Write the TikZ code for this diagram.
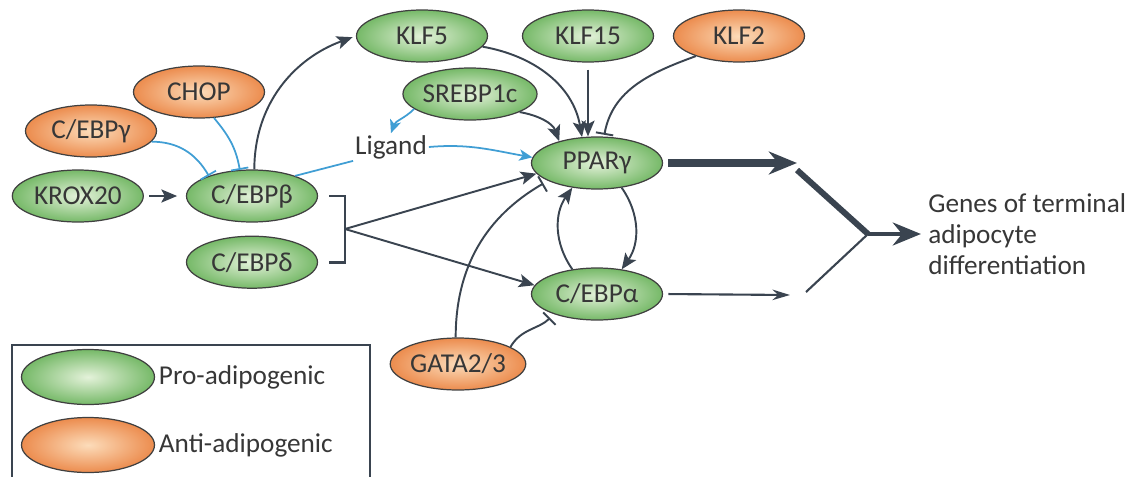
\documentclass[tikz,border=0pt]{standalone}
\usepackage{fontspec}
\setmainfont{Carlito}
\usetikzlibrary{positioning, shapes.geometric, arrows.meta}

\definecolor{linedark}{RGB}{58,68,80}
\definecolor{lineblue}{RGB}{64,158,212}
\definecolor{greenin}{RGB}{228,242,218}
\definecolor{greenout}{RGB}{118,185,104}
\definecolor{orangein}{RGB}{252,220,186}
\definecolor{orangeout}{RGB}{236,140,78}
\definecolor{textgray}{RGB}{55,55,55}

\begin{document}
\begin{tikzpicture}[x=0.02cm, y=0.02cm, node distance=10pt,
	font=\fontsize{15.5}{17.5}\selectfont, text=textgray,
	gene/.style={draw=black!75, line width=0.7pt, ellipse, shade, minimum width=2.62cm, minimum height=1.04cm, inner sep=0pt},
	pro/.style={gene, inner color=greenin, outer color=greenout},
	anti/.style={gene, inner color=orangein, outer color=orangeout},
	act/.style={draw=linedark, line width=1.1pt, -{Stealth[length=9pt,width=7.5pt,inset=2pt]}},
	inh/.style={draw=linedark, line width=1.1pt, -{Bar[width=10pt]}},
	actblue/.style={draw=lineblue, line width=1pt, -{Stealth[length=7.5pt,width=6.5pt,inset=2pt]}},
	inhblue/.style={draw=lineblue, line width=1pt, -{Bar[width=10pt]}},
	bracket/.style={draw=linedark, line width=1.7pt, line join=miter}]
	\useasboundingbox (0,0) rectangle (1144,-477);
	% regulators
	\node[pro] (klf5) at (422,-36) {KLF5};
	\node[pro] (klf15) at (588,-36) {KLF15};
	\node[anti] (klf2) at (739,-36) {KLF2};
	\node[anti] (chop) at (199,-92) {CHOP};
	\node[anti] (cebpg) at (91,-131) {C/EBPγ};
	\node[pro] (srebp) at (470,-94) {SREBP1c};
	\node[inner sep=1pt] (ligand) at (391,-147) {Ligand};
	\node[pro] (cebpb) at (252,-196) {C/EBPβ};
	\node[pro, left=0.84cm of cebpb] (krox) {KROX20};
	\node[pro, below=0.26cm of cebpb] (cebpd) {C/EBPδ};
	\node[pro] (ppar) at (597,-163) {PPARγ};
	\node[pro] (cebpa) at (597,-294) {C/EBPα};
	\node[anti] (gata) at (458,-364) {GATA2/3};
	\node[align=left, anchor=west, inner sep=0pt] (genes) at (928,-234) {Genes of terminal\\adipocyte\\differentiation};
	\coordinate (brk) at (345,-229);
	\coordinate (pend) at (797,-163);
	\coordinate (aend) at (790,-295);
	\coordinate (jn) at (868,-234);
	\coordinate (dtop) at (797,-170);
	\coordinate (dbot) at (806,-292);
	% early steps
	\draw[inhblue] (cebpg.-10) to[out=0, in=120] (cebpb.155);
	\draw[inhblue] (chop.-60) to[out=-50, in=100] (cebpb.115);
	\draw[act, shorten <=3pt, shorten >=5pt] (krox) -- (cebpb);
	\draw[act, shorten >=2pt] (cebpb.85) to[out=90, in=200] (klf5.west);
	\draw[lineblue, line width=1pt] (cebpb.25) -- (ligand.south west);
	\draw[actblue] (srebp.195) to[out=225, in=70] (ligand.north);
	\draw[actblue] (ligand.east) to[out=5, in=170] (ppar.175);
	\draw[bracket] ([xshift=0.22cm]cebpb.east) -| (brk) |- ([xshift=0.22cm]cebpd.east);
	% into PPARg and C/EBPa
	\draw[act] (srebp.-20) to[out=-10, in=110] (ppar.150);
	\draw[act] (klf5.-10) to[out=-10, in=100] (ppar.120);
	\draw[act, shorten <=4pt] (klf15.south) -- (klf15.south |- ppar.north);
	\draw[inh, shorten >=1pt] (klf2.205) to[out=200, in=80] (ppar.75);
	\draw[act] (brk) -- (ppar.190);
	\draw[act] (brk) -- (cebpa.172);
	\draw[inh, shorten >=3pt] (gata.95) to[out=90, in=210] (ppar.200);
	\draw[inh, shorten >=3pt] (gata.18) to[out=60, in=225] (cebpa.205);
	\draw[act] (cebpa.135) to[out=125, in=235] (ppar.225);
	\draw[act] (ppar.-45) to[out=-55, in=55] (cebpa.45);
	% terminal genes
	\draw[linedark, line width=4.5pt, -{Stealth[length=16pt,width=13pt]}, shorten <=3pt] (ppar.east) -- (pend);
	\draw[linedark, line width=1.2pt, -{Stealth[length=10pt,width=6pt]}, shorten <=3pt] (cebpa.east) -- (aend);
	\draw[linedark, line width=3.4pt] (dtop) -- (jn);
	\draw[linedark, line width=1.2pt] (dbot) -- (jn);
	\draw[linedark, line width=2.8pt, -{Stealth[length=16pt,width=13pt]}, shorten >=4pt] (jn) -- (genes.west);
	% legend
	\draw[linedark, line width=0.9pt] (12,-477) |- (370,-345) -- (370,-477);
	\node[pro, minimum width=2.66cm, minimum height=1.1cm] (legpro) at (88,-377) {};
	\node[right=0pt of legpro, inner sep=2pt] (protext) {Pro-adipogenic};
	\node[anti, minimum width=2.66cm, minimum height=1.1cm] (leganti) at (88,-445) {};
	\node[right=0pt of leganti, inner sep=2pt] (antitext) {Anti-adipogenic};
\end{tikzpicture}
\end{document}
